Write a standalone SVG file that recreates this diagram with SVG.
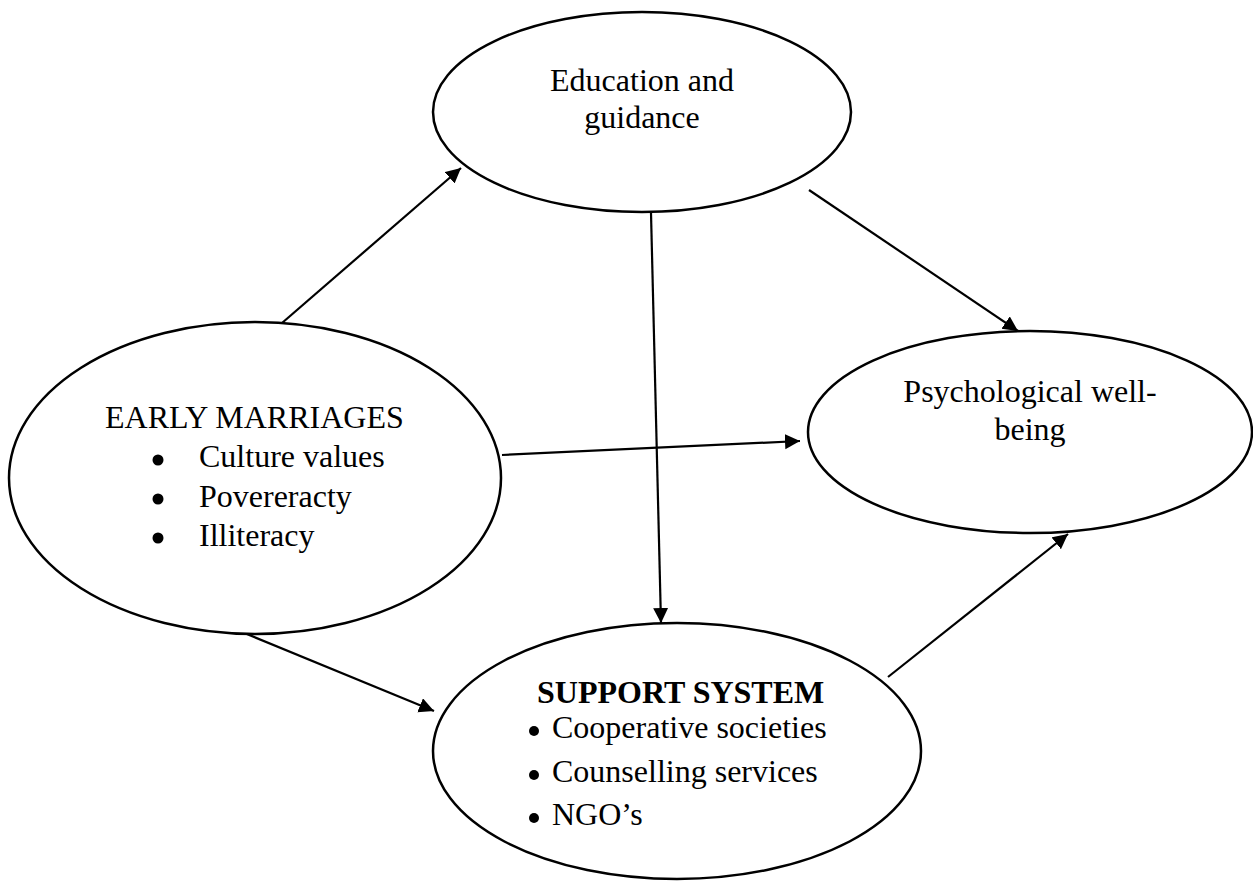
<svg xmlns="http://www.w3.org/2000/svg" width="1253" height="881" viewBox="0 0 1253 881">
  <style>
    .node { fill: #ffffff; stroke: #000000; stroke-width: 2.5; }
    .label { font-family: "Liberation Serif", "Times New Roman", serif; font-size: 32px; fill: #000000; }
    .mid { text-anchor: middle; }
    .bold { font-weight: bold; }
    .dot { fill: #000000; }
    .edge { stroke: #000000; stroke-width: 2.2; fill: none; marker-end: url(#arrow); }
  </style>
  <defs>
    <marker id="arrow" markerUnits="userSpaceOnUse" markerWidth="16" markerHeight="16" refX="15" refY="7.5" orient="auto">
      <path d="M0,0 L15,7.5 L0,15 z" fill="#000000"/>
    </marker>
  </defs>
  <rect width="1253" height="881" fill="#ffffff"/>

  <g id="connectors">
    <line class="edge" x1="282" y1="323" x2="461" y2="168"/>
    <line class="edge" x1="809" y1="190" x2="1018" y2="331"/>
    <line class="edge" x1="651" y1="213" x2="661" y2="623"/>
    <line class="edge" x1="502" y1="455" x2="800" y2="441"/>
    <line class="edge" x1="242" y1="632" x2="434" y2="711"/>
    <line class="edge" x1="888" y1="677" x2="1068" y2="534"/>
  </g>

  <g id="education">
    <ellipse class="node" cx="642" cy="112" rx="209" ry="100"/>
    <text class="label mid" x="642" y="91">Education and</text>
    <text class="label mid" x="642" y="128">guidance</text>
  </g>

  <g id="early-marriages">
    <ellipse class="node" cx="255" cy="478" rx="246" ry="156"/>
    <text class="label" x="105" y="428">EARLY MARRIAGES</text>
    <circle class="dot" cx="158" cy="460" r="5.5"/>
    <text class="label" x="199" y="467">Culture values</text>
    <circle class="dot" cx="158" cy="499" r="5.5"/>
    <text class="label" x="199" y="507">Povereracty</text>
    <circle class="dot" cx="158" cy="538" r="5.5"/>
    <text class="label" x="199" y="546">Illiteracy</text>
  </g>

  <g id="wellbeing">
    <ellipse class="node" cx="1030" cy="432" rx="222" ry="101"/>
    <text class="label mid" x="1030" y="402">Psychological well-</text>
    <text class="label mid" x="1030" y="440">being</text>
  </g>

  <g id="support-system">
    <ellipse class="node" cx="677" cy="751" rx="244" ry="128"/>
    <text class="label bold" x="537" y="703">SUPPORT SYSTEM</text>
    <circle class="dot" cx="534" cy="731" r="5"/>
    <text class="label" x="552" y="738">Cooperative societies</text>
    <circle class="dot" cx="534" cy="775" r="5"/>
    <text class="label" x="552" y="782">Counselling services</text>
    <circle class="dot" cx="534" cy="818" r="5"/>
    <text class="label" x="552" y="825">NGO’s</text>
  </g>
</svg>
